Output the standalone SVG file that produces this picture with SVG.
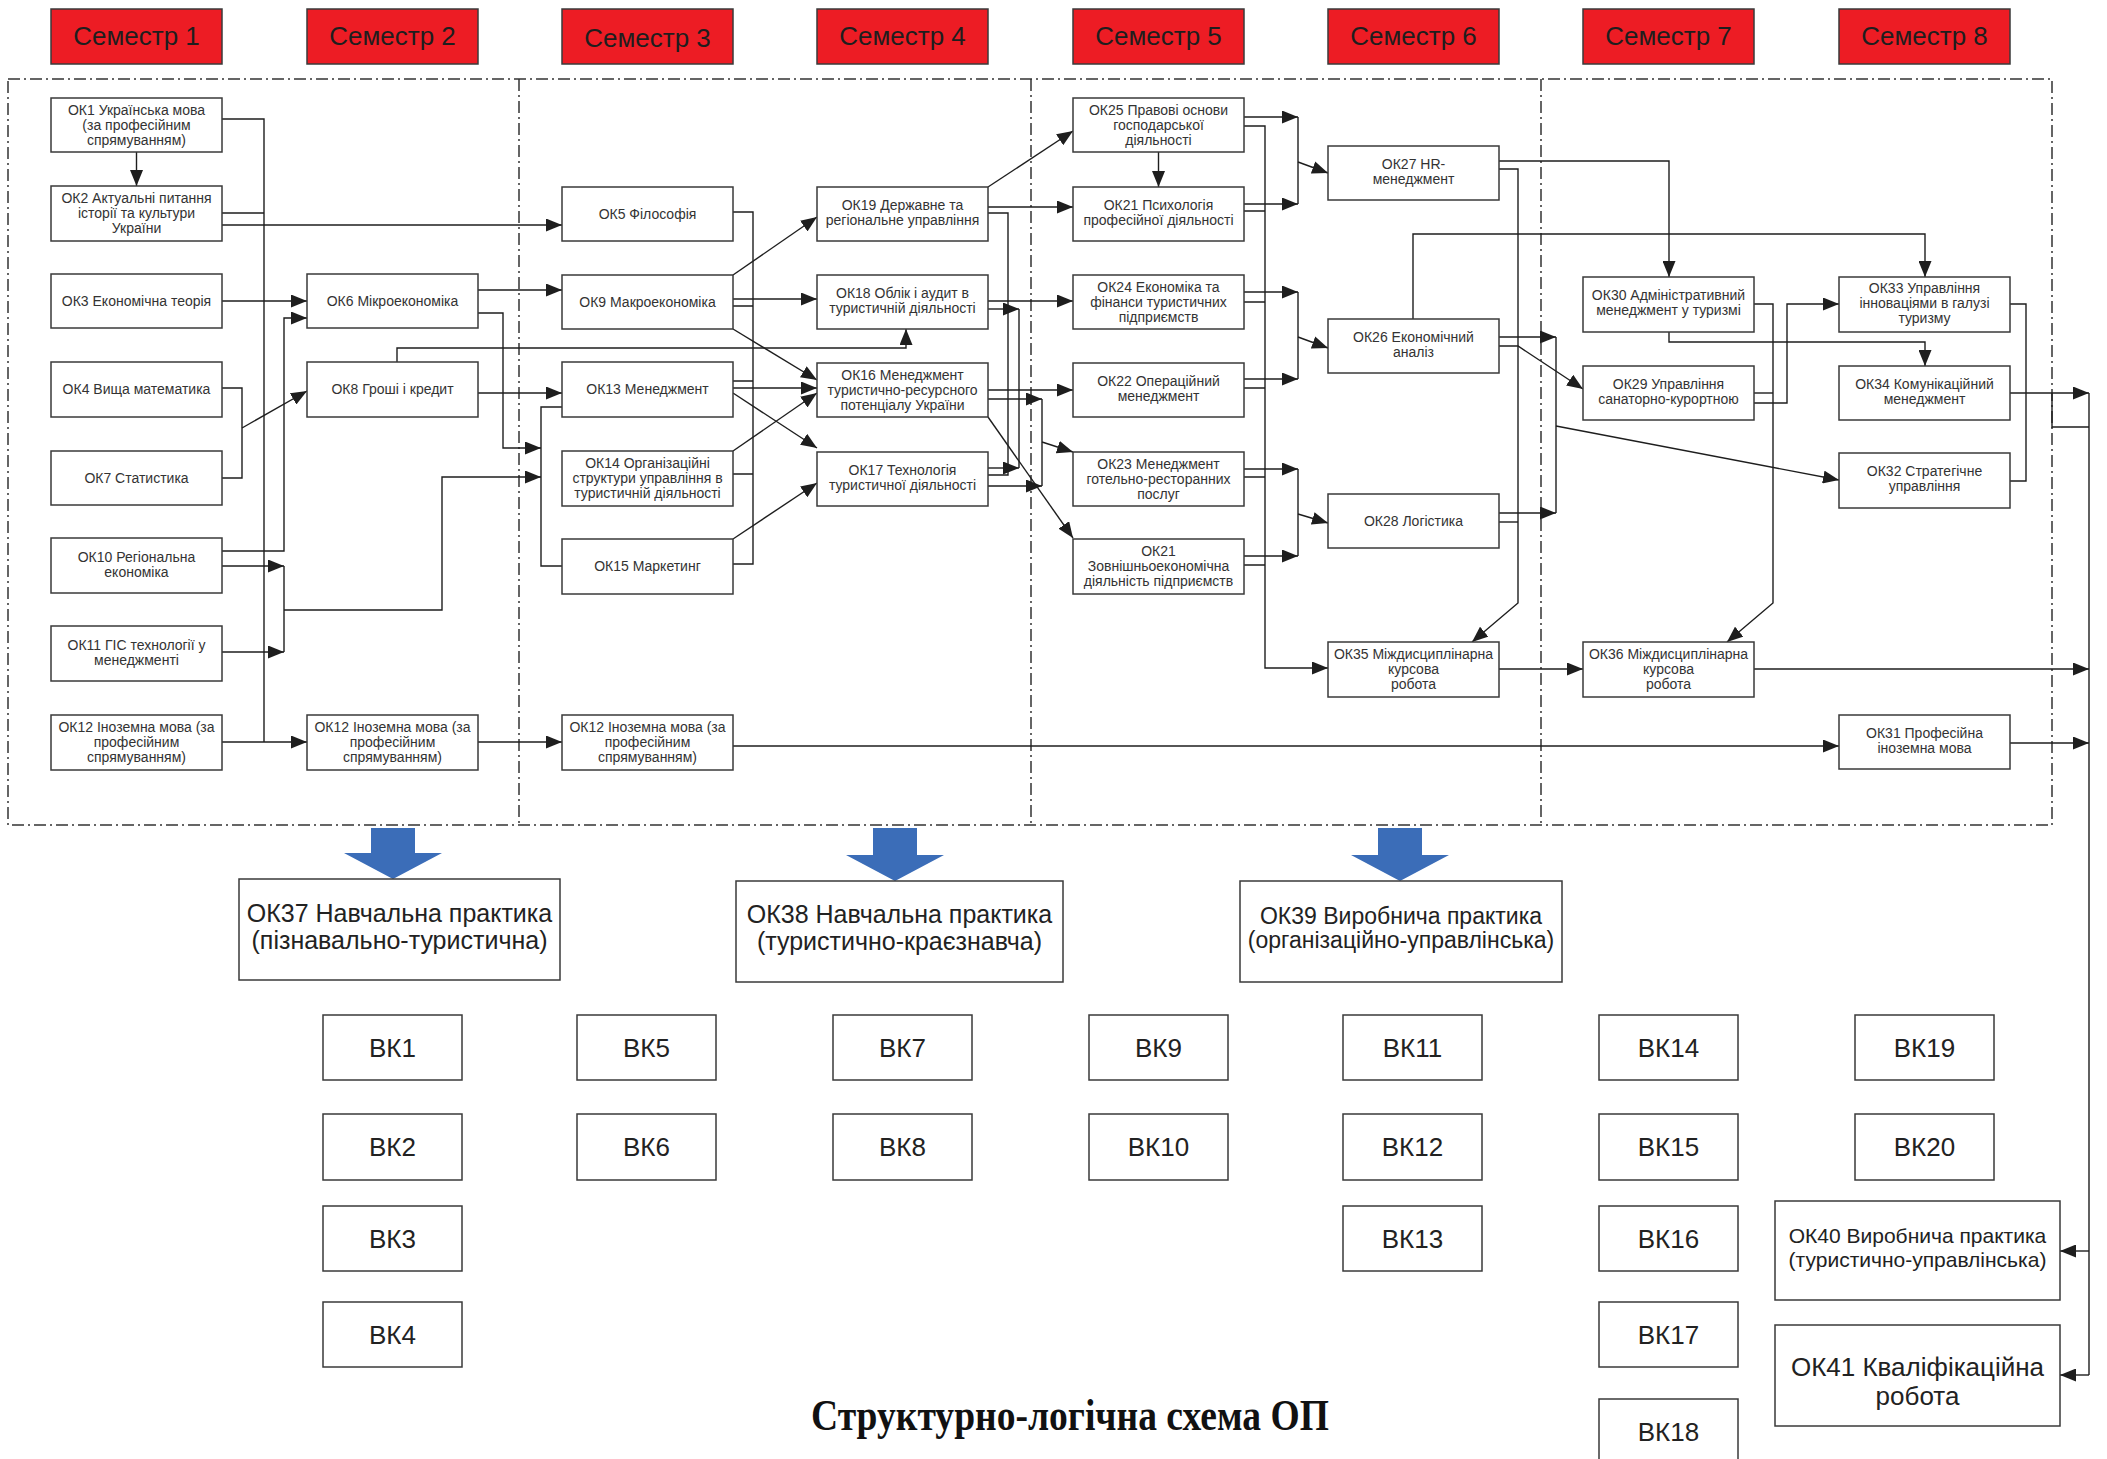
<svg xmlns="http://www.w3.org/2000/svg" width="2107" height="1459" viewBox="0 0 2107 1459">
<defs>
<marker id="ah" viewBox="0 0 16 13" markerWidth="16" markerHeight="13" refX="16" refY="6.5" orient="auto" markerUnits="userSpaceOnUse">
<path d="M0,0 L16,6.5 L0,13 z" fill="#1e1e1e"/>
</marker>
<style>
.sem rect{fill:#ED1C24;stroke:#3a3a3a;stroke-width:1.5}
.sem text{font-family:"Liberation Sans",Arial,sans-serif;font-size:26px;fill:#1e1e1e;text-anchor:middle}
.node rect{fill:#fff;stroke:#3a3a3a;stroke-width:1.5}
.node text{font-family:"Liberation Sans",Arial,sans-serif;font-size:14px;fill:#333;text-anchor:middle}
.prac text{font-size:25px;fill:#222}
.prac2 text{font-size:23px;fill:#222}
.bk text{font-size:26px;fill:#222}
.ln{fill:none;stroke:#1e1e1e;stroke-width:1.4}
.ar{marker-end:url(#ah)}
.frame{fill:none;stroke:#333;stroke-width:1.5;stroke-dasharray:12 4 2 4}
.blue{fill:#3B6DB8}
.title{font-family:"Liberation Serif","Times New Roman",serif;font-weight:bold;font-size:44px;fill:#111}
</style>
</defs>
<rect width="2107" height="1459" fill="#fff"/>

<g id="frame">
<rect class="frame" x="8" y="79" width="2044" height="746"/>
<path class="frame" d="M519,79 V825 M1031,79 V825 M1541,79 V825"/>
</g>

<g id="semesters">
<g id="sem1" class="sem"><rect x="51" y="9" width="171" height="55"/><text x="136.5" y="45">Семестр 1</text></g>
<g id="sem2" class="sem"><rect x="307" y="9" width="171" height="55"/><text x="392.5" y="45">Семестр 2</text></g>
<g id="sem3" class="sem"><rect x="562" y="9" width="171" height="55"/><text x="647.5" y="47">Семестр 3</text></g>
<g id="sem4" class="sem"><rect x="817" y="9" width="171" height="55"/><text x="902.5" y="45">Семестр 4</text></g>
<g id="sem5" class="sem"><rect x="1073" y="9" width="171" height="55"/><text x="1158.5" y="45">Семестр 5</text></g>
<g id="sem6" class="sem"><rect x="1328" y="9" width="171" height="55"/><text x="1413.5" y="45">Семестр 6</text></g>
<g id="sem7" class="sem"><rect x="1583" y="9" width="171" height="55"/><text x="1668.5" y="45">Семестр 7</text></g>
<g id="sem8" class="sem"><rect x="1839" y="9" width="171" height="55"/><text x="1924.5" y="45">Семестр 8</text></g>
</g>

<g id="connectors">
<!-- semester 1 -->
<path class="ln ar" d="M136.5,152 V186"/>
<path class="ln" d="M222,119 H264 V742 M222,213 H264"/>
<path class="ln ar" d="M222,742 H307"/>
<path class="ln ar" d="M222,301 H307"/>
<path class="ln ar" d="M222,551 H284 V318 H307"/>
<path class="ln" d="M222,388 H242 V478 H222"/>
<path class="ln ar" d="M242,428 L307,391"/>
<path class="ln ar" d="M222,566 H284"/>
<path class="ln ar" d="M222,652 H284"/>
<path class="ln" d="M284,566 V652"/>
<path class="ln ar" d="M284,610 H442 V477 H541"/>
<path class="ln ar" d="M478,313 H503 V448 H541"/>
<path class="ln ar" d="M478,290 H562"/>
<path class="ln ar" d="M478,393 H562"/>
<path class="ln ar" d="M397,362 V348 H906 V329"/>
<path class="ln ar" d="M222,225 H562"/>
<path class="ln ar" d="M478,742 H562"/>
<!-- semester 3 -->
<path class="ln" d="M562,407 H541 V566 H562"/>
<path class="ln" d="M733,212 H753 V564 H733 M733,306 H753 M733,381 H753 M733,474 H753"/>
<path class="ln ar" d="M733,275 L817,217"/>
<path class="ln ar" d="M733,299 H817"/>
<path class="ln ar" d="M733,329 L817,380"/>
<path class="ln ar" d="M733,388 H817"/>
<path class="ln ar" d="M733,451 L817,393"/>
<path class="ln ar" d="M733,393 L817,448"/>
<path class="ln ar" d="M733,539 L817,483"/>
<path class="ln ar" d="M733,746 H1839"/>
<!-- semester 4 -->
<path class="ln ar" d="M988,187 L1073,131"/>
<path class="ln ar" d="M988,207 H1073"/>
<path class="ln" d="M988,213 H1008 V475 H988"/>
<path class="ln ar" d="M988,301 H1073"/>
<path class="ln ar" d="M988,309 H1019"/>
<path class="ln ar" d="M988,468 H1019"/>
<path class="ln" d="M1019,309 V468"/>
<path class="ln ar" d="M988,390 H1073"/>
<path class="ln ar" d="M988,399 H1042"/>
<path class="ln ar" d="M988,486 H1042"/>
<path class="ln" d="M1042,399 V486"/>
<path class="ln ar" d="M1042,442 L1073,452"/>
<path class="ln ar" d="M988,417 L1073,538"/>
<!-- semester 5 -->
<path class="ln ar" d="M1158.5,152 V187"/>
<path class="ln ar" d="M1244,117 H1298"/>
<path class="ln ar" d="M1244,204 H1298"/>
<path class="ln" d="M1298,117 V204"/>
<path class="ln ar" d="M1298,162 L1328,173"/>
<path class="ln ar" d="M1244,292 H1298"/>
<path class="ln ar" d="M1244,379 H1298"/>
<path class="ln" d="M1298,292 V379"/>
<path class="ln ar" d="M1298,337 L1328,348"/>
<path class="ln ar" d="M1244,469 H1298"/>
<path class="ln ar" d="M1244,556 H1298"/>
<path class="ln" d="M1298,469 V556"/>
<path class="ln ar" d="M1298,514 L1328,523"/>
<path class="ln ar" d="M1244,126 H1265 V668 H1328"/>
<path class="ln" d="M1244,211 H1265 M1244,302 H1265 M1244,388 H1265 M1244,477 H1265 M1244,565 H1265"/>
<!-- semester 6 -->
<path class="ln ar" d="M1499,161 H1669 V277"/>
<path class="ln ar" d="M1499,169 H1518 V603 L1472,642"/>
<path class="ln ar" d="M1413,319 V234 H1925 V277"/>
<path class="ln ar" d="M1499,337 H1556"/>
<path class="ln ar" d="M1499,513 H1556"/>
<path class="ln" d="M1556,337 V513"/>
<path class="ln ar" d="M1556,426 L1839,480"/>
<path class="ln ar" d="M1499,346 H1518 L1583,389"/>
<path class="ln" d="M1499,522 H1518"/>
<path class="ln ar" d="M1499,669 H1583"/>
<!-- semester 7 -->
<path class="ln ar" d="M1754,304 H1773 V603 L1727,642"/>
<path class="ln ar" d="M1669,332 V342 H1925 V366"/>
<path class="ln" d="M1754,393 H1773"/>
<path class="ln ar" d="M1754,403 H1787 V304 H1839"/>
<!-- semester 8 -->
<path class="ln" d="M2010,304 H2026 V481 H2010"/>
<path class="ln ar" d="M2010,393 H2089"/>
<path class="ln ar" d="M1754,669 H2089"/>
<path class="ln ar" d="M2010,743 H2089"/>
<path class="ln" d="M2089,393 V1375 M2052,393 V427 H2089"/>
<path class="ln ar" d="M2089,1251 H2060"/>
<path class="ln ar" d="M2089,1375 H2060"/>
</g>

<g id="nodes">
<g id="ok1" class="node"><rect x="51" y="98" width="171" height="54"/><text><tspan x="136.5" y="115">ОК1 Українська мова</tspan><tspan x="136.5" y="130">(за професійним</tspan><tspan x="136.5" y="145">спрямуванням)</tspan></text></g>
<g id="ok2" class="node"><rect x="51" y="186" width="171" height="55"/><text><tspan x="136.5" y="203">ОК2 Актуальні питання</tspan><tspan x="136.5" y="218">історії та культури</tspan><tspan x="136.5" y="233">України</tspan></text></g>
<g id="ok3" class="node"><rect x="51" y="274" width="171" height="54"/><text x="136.5" y="306">ОК3 Економічна теорія</text></g>
<g id="ok4" class="node"><rect x="51" y="362" width="171" height="55"/><text x="136.5" y="394">ОК4 Вища математика</text></g>
<g id="ok7" class="node"><rect x="51" y="451" width="171" height="54"/><text x="136.5" y="483">ОК7 Статистика</text></g>
<g id="ok10" class="node"><rect x="51" y="538" width="171" height="55"/><text><tspan x="136.5" y="562">ОК10 Регіональна</tspan><tspan x="136.5" y="577">економіка</tspan></text></g>
<g id="ok11" class="node"><rect x="51" y="626" width="171" height="55"/><text><tspan x="136.5" y="650">ОК11 ГІС технології у</tspan><tspan x="136.5" y="665">менеджменті</tspan></text></g>
<g id="ok12a" class="node"><rect x="51" y="715" width="171" height="55"/><text><tspan x="136.5" y="732">ОК12 Іноземна мова (за</tspan><tspan x="136.5" y="747">професійним</tspan><tspan x="136.5" y="762">спрямуванням)</tspan></text></g>

<g id="ok6" class="node"><rect x="307" y="274" width="171" height="54"/><text x="392.5" y="306">ОК6 Мікроекономіка</text></g>
<g id="ok8" class="node"><rect x="307" y="362" width="171" height="55"/><text x="392.5" y="394">ОК8 Гроші і кредит</text></g>
<g id="ok12b" class="node"><rect x="307" y="715" width="171" height="55"/><text><tspan x="392.5" y="732">ОК12 Іноземна мова (за</tspan><tspan x="392.5" y="747">професійним</tspan><tspan x="392.5" y="762">спрямуванням)</tspan></text></g>

<g id="ok5" class="node"><rect x="562" y="187" width="171" height="54"/><text x="647.5" y="219">ОК5 Філософія</text></g>
<g id="ok9" class="node"><rect x="562" y="275" width="171" height="54"/><text x="647.5" y="307">ОК9 Макроекономіка</text></g>
<g id="ok13" class="node"><rect x="562" y="362" width="171" height="55"/><text x="647.5" y="394">ОК13 Менеджмент</text></g>
<g id="ok14" class="node"><rect x="562" y="451" width="171" height="55"/><text><tspan x="647.5" y="468">ОК14 Організаційні</tspan><tspan x="647.5" y="483">структури управління в</tspan><tspan x="647.5" y="498">туристичній діяльності</tspan></text></g>
<g id="ok15" class="node"><rect x="562" y="539" width="171" height="55"/><text x="647.5" y="571">ОК15 Маркетинг</text></g>
<g id="ok12c" class="node"><rect x="562" y="715" width="171" height="55"/><text><tspan x="647.5" y="732">ОК12 Іноземна мова (за</tspan><tspan x="647.5" y="747">професійним</tspan><tspan x="647.5" y="762">спрямуванням)</tspan></text></g>

<g id="ok19" class="node"><rect x="817" y="187" width="171" height="54"/><text><tspan x="902.5" y="210">ОК19 Державне та</tspan><tspan x="902.5" y="225">регіональне управління</tspan></text></g>
<g id="ok18" class="node"><rect x="817" y="275" width="171" height="54"/><text><tspan x="902.5" y="298">ОК18 Облік і аудит в</tspan><tspan x="902.5" y="313">туристичній діяльності</tspan></text></g>
<g id="ok16" class="node"><rect x="817" y="363" width="171" height="54"/><text><tspan x="902.5" y="380">ОК16 Менеджмент</tspan><tspan x="902.5" y="395">туристично-ресурсного</tspan><tspan x="902.5" y="410">потенціалу України</tspan></text></g>
<g id="ok17" class="node"><rect x="817" y="452" width="171" height="54"/><text><tspan x="902.5" y="475">ОК17 Технологія</tspan><tspan x="902.5" y="490">туристичної діяльності</tspan></text></g>

<g id="ok25" class="node"><rect x="1073" y="98" width="171" height="54"/><text><tspan x="1158.5" y="115">ОК25 Правові основи</tspan><tspan x="1158.5" y="130">господарської</tspan><tspan x="1158.5" y="145">діяльності</tspan></text></g>
<g id="ok21" class="node"><rect x="1073" y="187" width="171" height="54"/><text><tspan x="1158.5" y="210">ОК21 Психологія</tspan><tspan x="1158.5" y="225">професійної діяльності</tspan></text></g>
<g id="ok24" class="node"><rect x="1073" y="275" width="171" height="54"/><text><tspan x="1158.5" y="292">ОК24 Економіка та</tspan><tspan x="1158.5" y="307">фінанси туристичних</tspan><tspan x="1158.5" y="322">підприємств</tspan></text></g>
<g id="ok22" class="node"><rect x="1073" y="363" width="171" height="54"/><text><tspan x="1158.5" y="386">ОК22 Операційний</tspan><tspan x="1158.5" y="401">менеджмент</tspan></text></g>
<g id="ok23" class="node"><rect x="1073" y="452" width="171" height="54"/><text><tspan x="1158.5" y="469">ОК23 Менеджмент</tspan><tspan x="1158.5" y="484">готельно-ресторанних</tspan><tspan x="1158.5" y="499">послуг</tspan></text></g>
<g id="ok21z" class="node"><rect x="1073" y="539" width="171" height="55"/><text><tspan x="1158.5" y="556">ОК21</tspan><tspan x="1158.5" y="571">Зовнішньоекономічна</tspan><tspan x="1158.5" y="586">діяльність підприємств</tspan></text></g>

<g id="ok27" class="node"><rect x="1328" y="146" width="171" height="54"/><text><tspan x="1413.5" y="169">ОК27 HR-</tspan><tspan x="1413.5" y="184">менеджмент</tspan></text></g>
<g id="ok26" class="node"><rect x="1328" y="319" width="171" height="54"/><text><tspan x="1413.5" y="342">ОК26 Економічний</tspan><tspan x="1413.5" y="357">аналіз</tspan></text></g>
<g id="ok28" class="node"><rect x="1328" y="494" width="171" height="54"/><text x="1413.5" y="526">ОК28 Логістика</text></g>
<g id="ok35" class="node"><rect x="1328" y="642" width="171" height="55"/><text><tspan x="1413.5" y="659">ОК35 Міждисциплінарна</tspan><tspan x="1413.5" y="674">курсова</tspan><tspan x="1413.5" y="689">робота</tspan></text></g>

<g id="ok30" class="node"><rect x="1583" y="277" width="171" height="55"/><text><tspan x="1668.5" y="300">ОК30 Адміністративний</tspan><tspan x="1668.5" y="315">менеджмент у туризмі</tspan></text></g>
<g id="ok29" class="node"><rect x="1583" y="366" width="171" height="54"/><text><tspan x="1668.5" y="389">ОК29 Управління</tspan><tspan x="1668.5" y="404">санаторно-курортною</tspan></text></g>
<g id="ok36" class="node"><rect x="1583" y="642" width="171" height="55"/><text><tspan x="1668.5" y="659">ОК36 Міждисциплінарна</tspan><tspan x="1668.5" y="674">курсова</tspan><tspan x="1668.5" y="689">робота</tspan></text></g>

<g id="ok33" class="node"><rect x="1839" y="277" width="171" height="55"/><text><tspan x="1924.5" y="293">ОК33 Управління</tspan><tspan x="1924.5" y="308">інноваціями в галузі</tspan><tspan x="1924.5" y="323">туризму</tspan></text></g>
<g id="ok34" class="node"><rect x="1839" y="366" width="171" height="54"/><text><tspan x="1924.5" y="389">ОК34 Комунікаційний</tspan><tspan x="1924.5" y="404">менеджмент</tspan></text></g>
<g id="ok32" class="node"><rect x="1839" y="453" width="171" height="55"/><text><tspan x="1924.5" y="476">ОК32 Стратегічне</tspan><tspan x="1924.5" y="491">управління</tspan></text></g>
<g id="ok31" class="node"><rect x="1839" y="715" width="171" height="54"/><text><tspan x="1924.5" y="738">ОК31 Професійна</tspan><tspan x="1924.5" y="753">іноземна мова</tspan></text></g>
</g>

<g id="blue-arrows">
<polygon class="blue" points="371,828 415,828 415,853 442,853 393,879 344,853 371,853"/>
<polygon class="blue" points="873,828 917,828 917,855 944,855 895,881 846,855 873,855"/>
<polygon class="blue" points="1378,828 1422,828 1422,855 1449,855 1400,881 1351,855 1378,855"/>
</g>

<g id="practices">
<g id="ok37" class="node prac"><rect x="239" y="879" width="321" height="101"/><text><tspan x="399.5" y="922">ОК37 Навчальна практика</tspan><tspan x="399.5" y="949">(пізнавально-туристична)</tspan></text></g>
<g id="ok38" class="node prac"><rect x="736" y="881" width="327" height="101"/><text><tspan x="899.5" y="923">ОК38 Навчальна практика</tspan><tspan x="899.5" y="950">(туристично-краєзнавча)</tspan></text></g>
<g id="ok39" class="node prac2"><rect x="1240" y="881" width="322" height="101"/><text><tspan x="1401" y="924">ОК39 Виробнича практика</tspan><tspan x="1401" y="948">(організаційно-управлінська)</tspan></text></g>
<g id="ok40" class="node prac2"><rect x="1775" y="1201" width="285" height="99"/><text style="font-size:21px"><tspan x="1917.5" y="1243">ОК40 Виробнича практика</tspan><tspan x="1917.5" y="1267">(туристично-управлінська)</tspan></text></g>
<g id="ok41" class="node prac"><rect x="1775" y="1325" width="285" height="101"/><text style="font-size:26px"><tspan x="1917.5" y="1376">ОК41 Кваліфікаційна</tspan><tspan x="1917.5" y="1405">робота</tspan></text></g>
</g>

<g id="electives">
<g id="bk1" class="node bk"><rect x="323" y="1015" width="139" height="65"/><text x="392.5" y="1057">ВК1</text></g>
<g id="bk2" class="node bk"><rect x="323" y="1114" width="139" height="66"/><text x="392.5" y="1156">ВК2</text></g>
<g id="bk3" class="node bk"><rect x="323" y="1206" width="139" height="65"/><text x="392.5" y="1248">ВК3</text></g>
<g id="bk4" class="node bk"><rect x="323" y="1302" width="139" height="65"/><text x="392.5" y="1344">ВК4</text></g>
<g id="bk5" class="node bk"><rect x="577" y="1015" width="139" height="65"/><text x="646.5" y="1057">ВК5</text></g>
<g id="bk6" class="node bk"><rect x="577" y="1114" width="139" height="66"/><text x="646.5" y="1156">ВК6</text></g>
<g id="bk7" class="node bk"><rect x="833" y="1015" width="139" height="65"/><text x="902.5" y="1057">ВК7</text></g>
<g id="bk8" class="node bk"><rect x="833" y="1114" width="139" height="66"/><text x="902.5" y="1156">ВК8</text></g>
<g id="bk9" class="node bk"><rect x="1089" y="1015" width="139" height="65"/><text x="1158.5" y="1057">ВК9</text></g>
<g id="bk10" class="node bk"><rect x="1089" y="1114" width="139" height="66"/><text x="1158.5" y="1156">ВК10</text></g>
<g id="bk11" class="node bk"><rect x="1343" y="1015" width="139" height="65"/><text x="1412.5" y="1057">ВК11</text></g>
<g id="bk12" class="node bk"><rect x="1343" y="1114" width="139" height="66"/><text x="1412.5" y="1156">ВК12</text></g>
<g id="bk13" class="node bk"><rect x="1343" y="1206" width="139" height="65"/><text x="1412.5" y="1248">ВК13</text></g>
<g id="bk14" class="node bk"><rect x="1599" y="1015" width="139" height="65"/><text x="1668.5" y="1057">ВК14</text></g>
<g id="bk15" class="node bk"><rect x="1599" y="1114" width="139" height="66"/><text x="1668.5" y="1156">ВК15</text></g>
<g id="bk16" class="node bk"><rect x="1599" y="1206" width="139" height="65"/><text x="1668.5" y="1248">ВК16</text></g>
<g id="bk17" class="node bk"><rect x="1599" y="1302" width="139" height="65"/><text x="1668.5" y="1344">ВК17</text></g>
<g id="bk18" class="node bk"><rect x="1599" y="1399" width="139" height="70"/><text x="1668.5" y="1441">ВК18</text></g>
<g id="bk19" class="node bk"><rect x="1855" y="1015" width="139" height="65"/><text x="1924.5" y="1057">ВК19</text></g>
<g id="bk20" class="node bk"><rect x="1855" y="1114" width="139" height="66"/><text x="1924.5" y="1156">ВК20</text></g>
</g>

<text class="title" x="811" y="1430" textLength="518" lengthAdjust="spacingAndGlyphs">Структурно-логічна схема ОП</text>
</svg>
